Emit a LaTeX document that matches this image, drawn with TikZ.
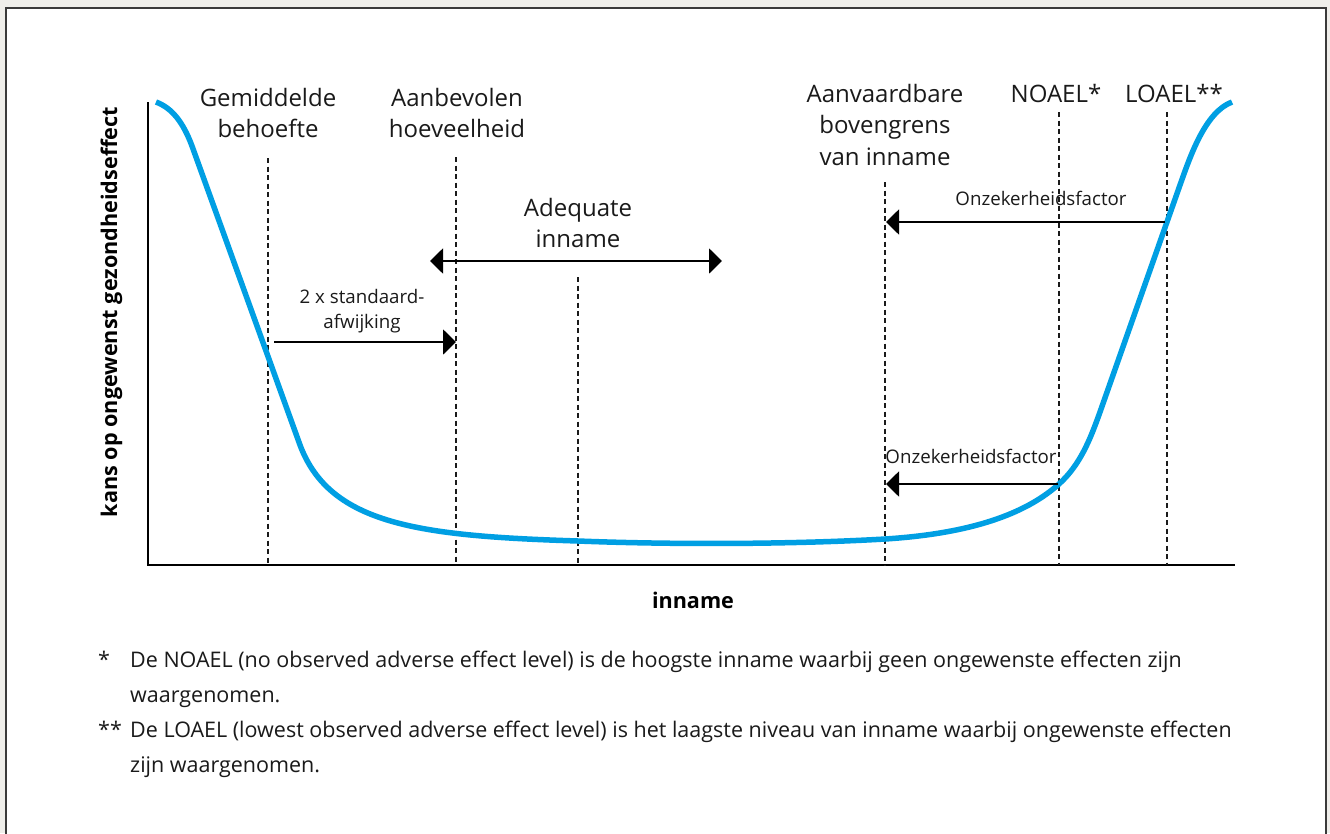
\documentclass[tikz,border=0pt]{standalone}
\usepackage{fontspec}
\setmainfont{Open Sans}
\usetikzlibrary{arrows.meta}
\definecolor{curveblue}{HTML}{009FE3}
\definecolor{bggray}{HTML}{EFEEEA}
\definecolor{inkc}{HTML}{1A1A1A}
\definecolor{framec}{HTML}{3A3A3A}
\begin{document}
\begin{tikzpicture}[x=1pt,y=-1pt,
  lbl/.style={font=\fontsize{24}{31.5}\selectfont, align=center, inner sep=0pt, text=inkc, anchor=base},
  smalllbl/.style={font=\fontsize{18.7}{25}\selectfont, align=center, inner sep=0pt, text=inkc, anchor=base},
  note/.style={font=\fontsize{21.5}{35}\selectfont, align=left, inner sep=0pt, text=inkc, anchor=base west},
  axlbl/.style={font=\fontsize{21.6}{26}\selectfont\bfseries, inner sep=0pt, text=black, anchor=base},
  guide/.style={draw=inkc, line width=1.6pt, dash pattern=on 5pt off 3.5pt},
  axisline/.style={draw=black, line width=2.5pt},
  arr/.style={draw=black, line width=2pt, -{Triangle[length=13pt,width=25pt]}},
  darr/.style={draw=black, line width=2pt, {Triangle[length=13pt,width=25pt]}-{Triangle[length=13pt,width=25pt]}},
  curve/.style={draw=curveblue, line width=5.5pt},
]
\useasboundingbox (0,0) rectangle (1330,833);
% background and frame
\fill[bggray] (0,0) rectangle (1330,833);
\filldraw[fill=white, draw=framec, line width=1.5pt] (6,8) rectangle (1326,845);

% axes
\coordinate (ytop) at (148,102);
\coordinate (origin) at (148,565);
\coordinate (xend) at (1235,565);
\draw[axisline] (ytop) -- (origin) -- (xend);

% guide lines
\coordinate (g1t) at (268,158); \coordinate (g1b) at (268,565);
\coordinate (g2t) at (456,157); \coordinate (g2b) at (456,565);
\coordinate (g3t) at (578,277); \coordinate (g3b) at (578,565);
\coordinate (g4t) at (885,182); \coordinate (g4b) at (885,565);
\coordinate (g5t) at (1059,112); \coordinate (g5b) at (1059,565);
\coordinate (g6t) at (1167,112); \coordinate (g6b) at (1167,565);
\draw[guide] (g1t) -- (g1b);
\draw[guide] (g2t) -- (g2b);
\draw[guide] (g3t) -- (g3b);
\draw[guide] (g4t) -- (g4b);
\draw[guide] (g5t) -- (g5b);
\draw[guide] (g6t) -- (g6b);

% curve
\draw[curve] (156,102) .. controls (172,108) and (183,122) .. (192,146)
  -- (300,445) .. controls (330,525) and (420,536) .. (578,541)
  .. controls (680,545) and (800,544) .. (885,539)
  .. controls (980,533) and (1030,510) .. (1059,484)
  .. controls (1080,465) and (1090,440) .. (1100,412)
  -- (1180,185) .. controls (1190,157) and (1205,112) .. (1232,102);

% arrows
\coordinate (sdA) at (274,342); \coordinate (sdB) at (456,342);
\draw[arr] (sdA) -- (sdB);
\coordinate (adA) at (430,261); \coordinate (adB) at (722,261);
\draw[darr] (adA) -- (adB);
\coordinate (u1A) at (1165,222); \coordinate (u1B) at (886,222);
\draw[arr] (u1A) -- (u1B);
\coordinate (u2A) at (1058,484); \coordinate (u2B) at (886,484);
\draw[arr] (u2A) -- (u2B);

% labels (base anchor = baseline of the last line)
\node[lbl] (gem) at (268,137.5) {Gemiddelde\\behoefte};
\node[lbl] (aanb) at (457,137.5) {Aanbevolen\\hoeveelheid};
\node[lbl] (adeq) at (578,247.5) {Adequate\\inname};
\node[lbl] (aanv) at (885,165) {Aanvaardbare\\bovengrens\\van inname};
\node[lbl] (noael) at (1056,102) {NOAEL*};
\node[lbl] (loael) at (1174,102) {LOAEL**};
\node[smalllbl] (sd) at (362,328) {2 x standaard-\\afwijking};
\node[smalllbl] (onz1) at (1041,205) {Onzekerheidsfactor};
\node[smalllbl] (onz2) at (971,463) {Onzekerheidsfactor};

% axis labels
\node[axlbl, rotate=90] (ylab) at (117,312) {kans op ongewenst gezondheidseffect};
\node[axlbl] (xlab) at (693,608) {inname};

% footnotes
\node[note] (s1) at (98,667) {*};
\node[note] (fn1) at (130,702) {De NOAEL (no observed adverse effect level) is de hoogste inname waarbij geen ongewenste effecten zijn\\waargenomen.};
\node[note] (s2) at (98,737) {**};
\node[note] (fn2) at (130,772) {De LOAEL (lowest observed adverse effect level) is het laagste niveau van inname waarbij ongewenste effecten\\zijn waargenomen.};
\end{tikzpicture}
\end{document}
